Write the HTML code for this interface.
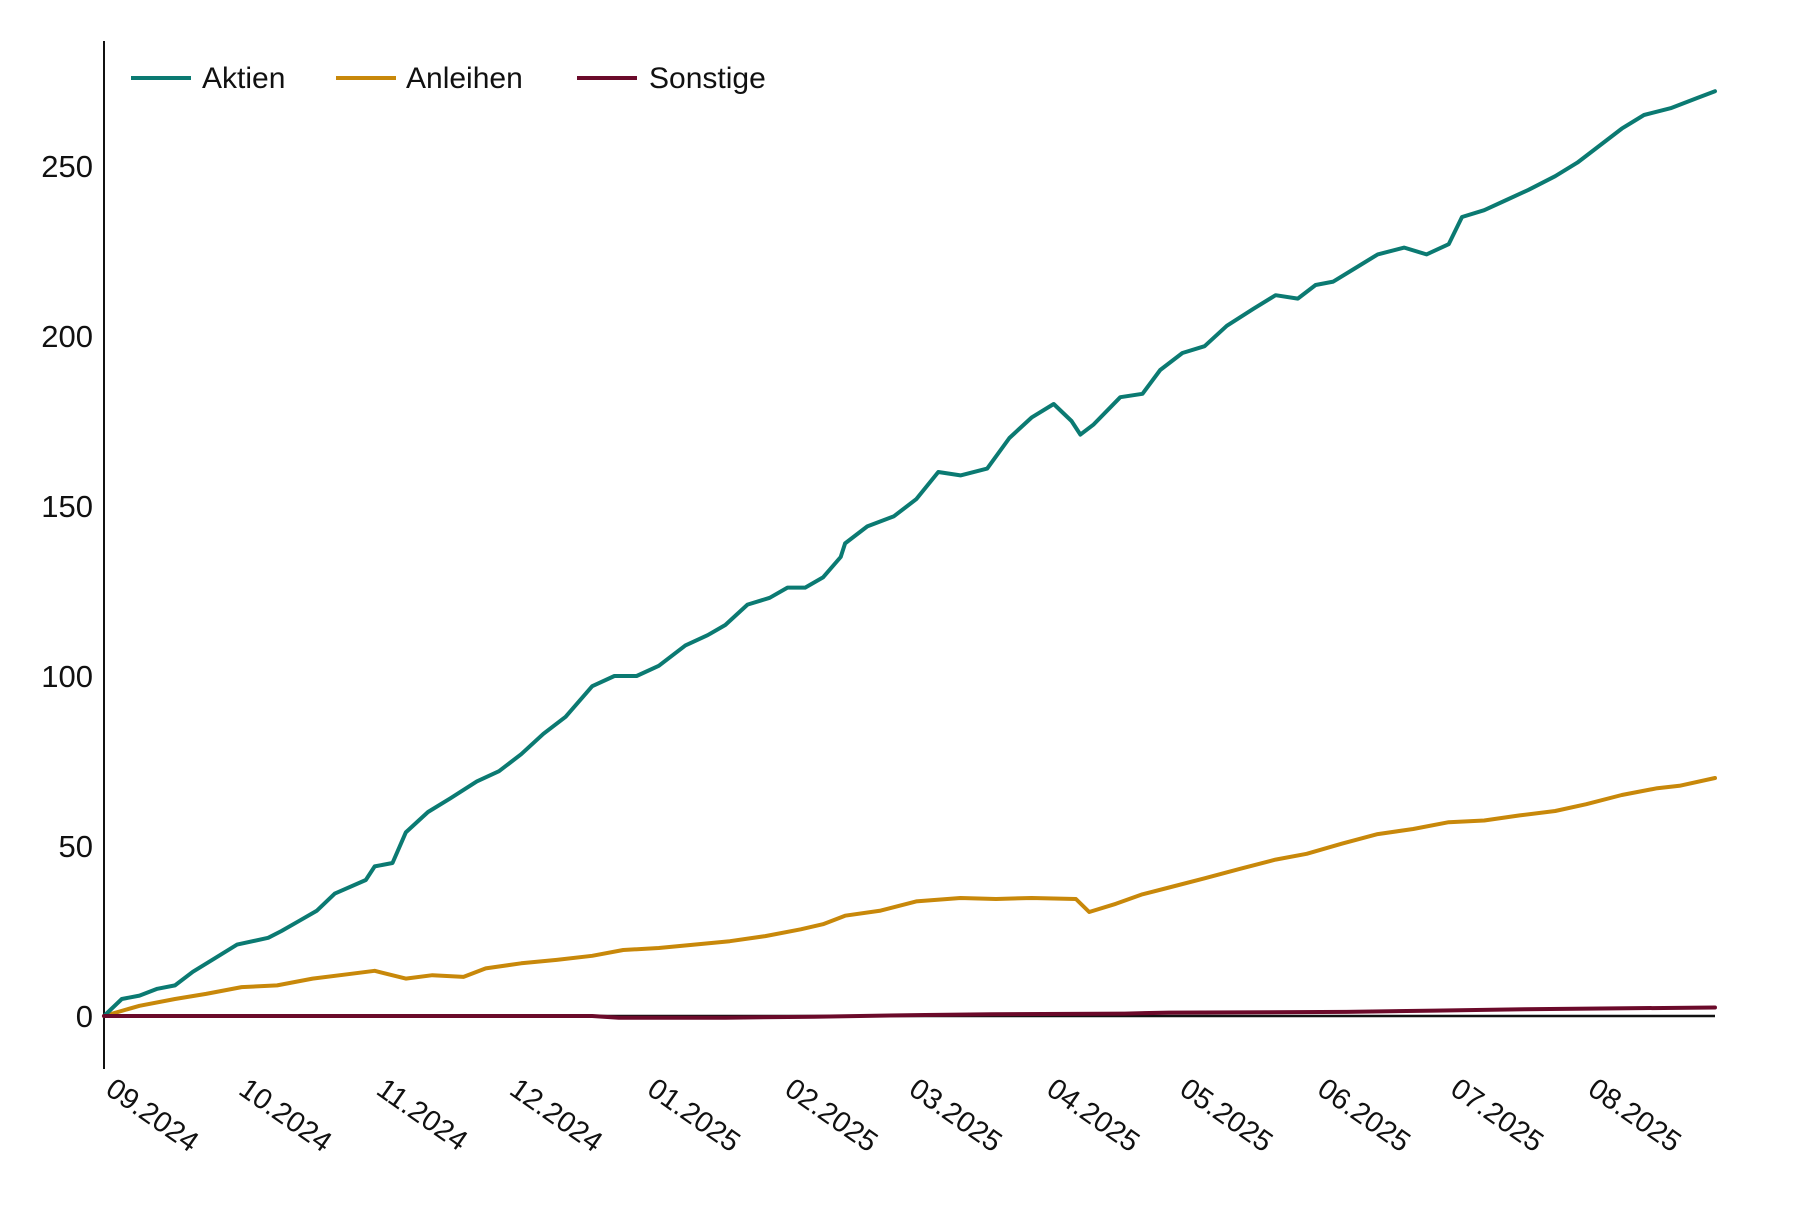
<!DOCTYPE html>
<html><head><meta charset="utf-8"><style>
html,body{margin:0;padding:0;background:#fff;}
svg text{font-family:"Liberation Sans",sans-serif;fill:#111;}
</style></head><body>
<svg id="chart" width="1800" height="1200" viewBox="0 0 1800 1200" xmlns="http://www.w3.org/2000/svg">
<g id="grid"></g>
<g id="series"></g>
<g id="axes"></g>
<g id="legend">
  <line x1="131" y1="78" x2="191" y2="78" stroke="#0b7a72" stroke-width="4"/>
  <text x="202" y="88" font-size="30">Aktien</text>
  <line x1="336" y1="78" x2="396" y2="78" stroke="#c8880a" stroke-width="4"/>
  <text x="406" y="88" font-size="30">Anleihen</text>
  <line x1="577" y1="78" x2="637" y2="78" stroke="#6b0a2a" stroke-width="4"/>
  <text x="649" y="88" font-size="30">Sonstige</text>
</g>
</svg>
<script>
const monthLabels = ["09.2024","10.2024","11.2024","12.2024","01.2025","02.2025","03.2025","04.2025","05.2025","06.2025","07.2025","08.2025"];
const monthDays = [0,30,61,91,122,153,181,212,242,273,303,334];
const yTicks = [0,50,100,150,200,250];
const aktienDays = [0,4,8,12,16,20,25,30,37,40,44,48,52,59,61,65,68,73,78,84,89,94,99,104,110,115,120,125,131,136,140,145,150,154,158,162,166,167,172,178,183,188,193,199,204,209,214,218,220,223,229,234,238,243,248,253,259,264,269,273,277,282,287,293,298,303,306,311,316,321,327,332,337,342,347,353,359,363];
const aktienValues = [0,5,6,8,9,13,17,21,23,25,28,31,36,40,44,45,54,60,64,69,72,77,83,88,97,100,100,103,109,112,115,121,123,126,126,129,135,139,144,147,152,160,159,161,170,176,180,175,171,174,182,183,190,195,197,203,208,212,211,215,216,220,224,226,224,227,235,237,240,243,247,251,256,261,265,267,270,272];
const anleihenDays = [0,8,16,23,31,39,47,55,61,68,74,81,86,94,102,110,117,125,133,141,149,157,162,167,175,183,193,201,209,219,222,228,234,240,248,256,264,271,279,287,295,303,311,319,327,334,342,350,355,363];
const anleihenValues = [0,3,5,6.5,8.5,9,11,12.3,13.3,11,12,11.5,14,15.5,16.5,17.7,19.4,20,21,22,23.5,25.5,27,29.5,31,33.7,34.7,34.4,34.7,34.4,30.6,33,35.8,37.8,40.5,43.3,46,47.7,50.7,53.5,55,57,57.5,59,60.3,62.3,65,67,67.7,70];
const sonstigeDays = [0,60,110,116,140,160,185,200,230,240,280,300,320,363];
const sonstigeValues = [0,0,0,-0.5,-0.5,-0.2,0.3,0.5,0.7,1,1.2,1.6,2,2.5];

const X0=104, X1=1715, Y0=1016, PX_PER_UNIT=170/50, MAXDAY=363;
const xs = d => X0 + d/MAXDAY*(X1-X0);
const ys = v => Y0 - v*PX_PER_UNIT;
const NS="http://www.w3.org/2000/svg";
const axes=document.getElementById('axes'), series=document.getElementById('series');

function mk(tag, attrs, parent){const e=document.createElementNS(NS,tag);for(const k in attrs)e.setAttribute(k,attrs[k]);parent.appendChild(e);return e;}

// y axis
const yAxis = mk('line',{x1:X0,y1:41,x2:X0,y2:1069,stroke:'#111','stroke-width':2},axes);


// zero line
const zl = mk('line',{x1:X0,y1:Y0,x2:X1,y2:Y0,stroke:'#111','stroke-width':2.5},axes);



yTicks.forEach(v=>{
  const t=mk('text',{x:93,y:ys(v)+11,'font-size':31,'text-anchor':'end'},axes);
  t.textContent=v;
  
  
});
monthLabels.forEach((m,i)=>{
  const x=xs(monthDays[i]), y=1093;
  const t=mk('text',{x:x,y:y,'font-size':29,transform:`rotate(35 ${x} ${y})`},axes);
  t.textContent=m;
  
  
});

function drawLine(days, vals, color, name){
  const d=days.map((dd,i)=>(i?'L':'M')+xs(dd).toFixed(1)+','+ys(vals[i]).toFixed(1)).join(' ');
  const p=mk('path',{d:d,fill:'none',stroke:color,'stroke-width':4,'stroke-linejoin':'round','stroke-linecap':'round'},series);
  
  
}
drawLine(anleihenDays, anleihenValues, '#c8880a', 'line-anleihen');
drawLine(aktienDays, aktienValues, '#0b7a72', 'line-aktien');
// sonstige above zero line
const sg=document.getElementById('series');
axes.parentNode.appendChild(sg);
drawLine(sonstigeDays, sonstigeValues, '#6b0a2a', 'line-sonstige');
</script>
</body></html>
